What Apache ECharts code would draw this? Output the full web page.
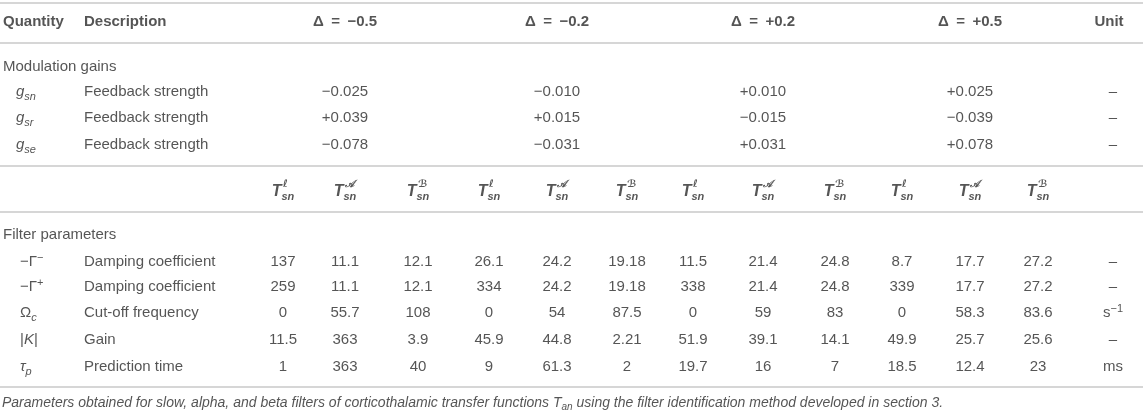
<!DOCTYPE html>
<html>
<head>
<meta charset="utf-8">
<script src="https://cdn.jsdelivr.net/npm/echarts@6/dist/echarts.min.js"></script>
<style>
  html, body { margin: 0; padding: 0; background: #fff; }
  #container { width: 1143px; height: 414px; }
</style>
</head>
<body>
<div id="container"></div>
<script>
// ---- table data ----
var deltas = ['\u22120.5', '\u22120.2', '+0.2', '+0.5'];
var filterKinds = ['\u2113', '\ud835\udc9c', '\u212c'];   // slow, alpha, beta

var gainSubs = ['sn', 'sr', 'se'];
var gainDesc = ['Feedback strength', 'Feedback strength', 'Feedback strength'];
var gSn = ['\u22120.025', '\u22120.010', '+0.010', '+0.025'];
var gSr = ['+0.039', '+0.015', '\u22120.015', '\u22120.039'];
var gSe = ['\u22120.078', '\u22120.031', '+0.031', '+0.078'];
var gainUnits = ['\u2013', '\u2013', '\u2013'];

var filterSymbols = [
    '{r|\u2212\u0393}{sup|\u2212}',
    '{r|\u2212\u0393}{sup|+}',
    '{r|\u03a9}{sub|c}',
    '{r||}{i|K}{r||}',
    '{i|\u03c4}{sub|p}'
];
var filterDesc = ['Damping coefficient', 'Damping coefficient', 'Cut-off frequency', 'Gain', 'Prediction time'];
var gammaMinus = [137, 11.1, 12.1, 26.1, 24.2, 19.18, 11.5, 21.4, 24.8, 8.7, 17.7, 27.2];
var gammaPlus  = [259, 11.1, 12.1, 334, 24.2, 19.18, 338, 21.4, 24.8, 339, 17.7, 27.2];
var omegaC     = [0, 55.7, 108, 0, 54, 87.5, 0, 59, 83, 0, 58.3, 83.6];
var gainK      = [11.5, 363, 3.9, 45.9, 44.8, 2.21, 51.9, 39.1, 14.1, 49.9, 25.7, 25.6];
var tauP       = [1, 363, 40, 9, 61.3, 2, 19.7, 16, 7, 18.5, 12.4, 23];
var filterUnits = ['\u2013', '\u2013', '{r|s}{sup|\u22121}', '\u2013', 'ms'];

var caption = 'Parameters obtained for slow, alpha, and beta filters of corticothalamic transfer functions {ci|T}{csub|an} using the filter identification method developed in section 3.';

// ---- layout (pixels on the hidden axes) ----
var colX = [283, 345, 418, 489, 557, 627, 693, 763, 835, 902, 970, 1038];
var quantX = 3, symX = 16, descX = 84, unitX = 1113;
var headY = 22, modY = 67, gainY = [92, 118, 145];
var subY = 192, filtY = 235, rowY = [262, 287, 313, 340, 367], capY = 403;
var ruleY = [3, 43, 166, 212, 387];

var dom = document.getElementById('container');
var myChart = echarts.init(dom, null, {renderer: 'canvas'});

var ink = '#2b2b2b';
var rich = {
    r: {fontSize: 15, lineHeight: 20, color: ink},
    i: {fontSize: 15, lineHeight: 20, fontStyle: 'italic', color: ink},
    sub: {fontSize: 11, lineHeight: 13, fontStyle: 'italic', verticalAlign: 'bottom', color: ink},
    sup: {fontSize: 11, lineHeight: 11, verticalAlign: 'top', color: ink},
    bt: {fontSize: 16, lineHeight: 20, fontStyle: 'italic', fontWeight: 'bold', color: ink},
    bsub: {fontSize: 11, lineHeight: 12, fontStyle: 'italic', fontWeight: 'bold', verticalAlign: 'bottom', color: ink},
    b: {fontSize: 15, lineHeight: 20, fontWeight: 'bold', color: ink},
    c: {fontSize: 14, lineHeight: 18, fontStyle: 'italic', color: ink},
    ci: {fontSize: 14, lineHeight: 18, fontStyle: 'italic', color: ink},
    csub: {fontSize: 10, lineHeight: 11, fontStyle: 'italic', verticalAlign: 'bottom', color: ink}
};

var cells = [];
function cell(x, y, text, align) {
    cells.push({value: [x, y], name: text, label: {align: align || 'center'}});
}

// header row
cell(quantX, headY, '{b|Quantity}', 'left');
cell(descX, headY, '{b|Description}', 'left');
deltas.forEach(function (d, k) {
    cell(colX[k * 3 + 1], headY, '{b|\u0394\u2002=\u2002' + d + '}');
});
cell(unitX - 4, headY, '{b|Unit}');

// modulation gains
cell(quantX, modY, '{r|Modulation gains}', 'left');
[gSn, gSr, gSe].forEach(function (vals, r) {
    cell(symX, gainY[r], '{i|g}{sub|' + gainSubs[r] + '}', 'left');
    cell(descX, gainY[r], '{r|' + gainDesc[r] + '}', 'left');
    vals.forEach(function (v, k) {
        cell(colX[k * 3 + 1], gainY[r], '{r|' + v + '}');
    });
    cell(unitX, gainY[r], '{r|' + gainUnits[r] + '}');
});

// filter sub-header: T^kind_sn
var supCells = [];
colX.forEach(function (x, j) {
    cell(x, subY, '{bt|T}{bsub|sn}');
    supCells.push({value: [x, subY], name: filterKinds[j % 3]});
});

// filter parameters
cell(quantX, filtY, '{r|Filter parameters}', 'left');
[gammaMinus, gammaPlus, omegaC, gainK, tauP].forEach(function (vals, r) {
    cell(symX + 4, rowY[r], filterSymbols[r], 'left');
    cell(descX, rowY[r], '{r|' + filterDesc[r] + '}', 'left');
    vals.forEach(function (v, j) {
        cell(colX[j], rowY[r], '{r|' + v + '}');
    });
    var u = filterUnits[r];
    cell(unitX, rowY[r], u.charAt(0) === '{' ? u : '{r|' + u + '}');
});

// caption
cell(2, capY, '{c|' + caption.replace('{ci|', '}{ci|').replace('{csub|an}', '{csub|an}{c|') + '}', 'left');

option = {
    backgroundColor: '#fff',
    animation: false,
    grid: {left: 0, right: 0, top: 0, bottom: 0},
    xAxis: {type: 'value', min: 0, max: 1143, show: false},
    yAxis: {type: 'value', min: 0, max: 414, inverse: true, show: false},
    series: [
        {
            type: 'scatter',
            symbolSize: 1,
            itemStyle: {color: 'rgba(0,0,0,0)'},
            label: {
                show: true,
                position: 'inside',
                verticalAlign: 'middle',
                fontFamily: 'Liberation Sans',
                formatter: function (p) { return p.name; },
                rich: rich
            },
            labelLayout: {hideOverlap: false},
            data: cells,
            markLine: {
                silent: true,
                symbol: ['none', 'none'],
                label: {show: false},
                lineStyle: {color: '#c9c9c9', width: 1.6, type: 'solid'},
                data: ruleY.map(function (y) { return {yAxis: y}; })
            }
        },
        {
            type: 'scatter',
            symbolSize: 1,
            itemStyle: {color: 'rgba(0,0,0,0)'},
            label: {
                show: true,
                position: 'inside',
                align: 'left',
                verticalAlign: 'middle',
                offset: [0, -8],
                fontFamily: 'DejaVu Sans',
                fontSize: 10,
                fontStyle: 'italic',
                fontWeight: 'bold',
                color: ink,
                formatter: function (p) { return p.name; }
            },
            data: supCells
        }
    ]
};
if (option && typeof option === 'object') {
    myChart.setOption(option, true);
}
</script>
</body>
</html>
